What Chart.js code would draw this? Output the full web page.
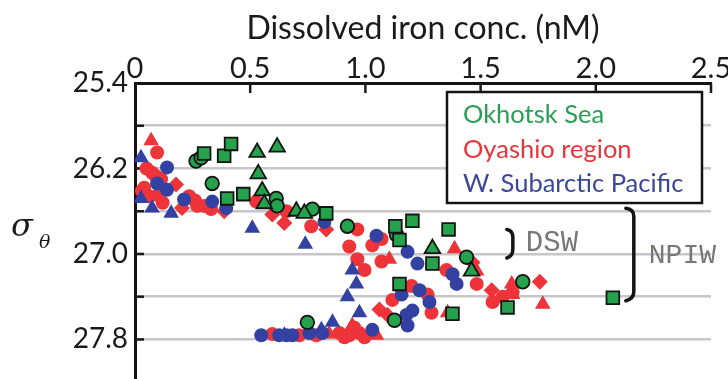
<!DOCTYPE html>
<html>
<head>
<meta charset="utf-8">
<script src="https://cdn.jsdelivr.net/npm/chart.js@4.4.1/dist/chart.umd.min.js"></script>
<style>
  html, body { margin: 0; padding: 0; background: #fff; overflow: hidden; width: 728px; height: 379px; }
  canvas { display: block; }
</style>
</head>
<body>
<canvas id="chart" width="729" height="406"></canvas>
<script>
// Axis ticks
const xTickLabels = ['0', '0.5', '1.0', '1.5', '2.0', '2.5'];
const yTickLabels = ['25.4', '26.2', '27.0', '27.8'];
const regionNames = ['Okhotsk Sea', 'Oyashio region', 'W. Subarctic Pacific'];
const waterMasses = ['DSW', 'NPIW'];
const dswRange = [26.8, 27.0];
const npiwRange = [26.6, 27.4];

// Samples: [dissolved Fe (nM), sigma-theta]
const okhotskCircles = [[0.265,26.13],[0.287,26.10],[0.335,26.34],[0.613,26.48],[0.617,26.55],[0.77,26.58],
  [0.922,26.74],[1.135,26.82],[1.439,27.03],[1.683,27.26],[0.748,27.64],[1.126,27.62]];
const okhotskSquares = [[0.30,26.06],[0.387,26.08],[0.417,25.97],[0.40,26.48],[0.47,26.44],[0.83,26.62],
  [1.13,26.74],[1.204,26.69],[1.148,26.87],[1.361,26.77],[1.291,27.09],[1.148,27.28],[1.378,27.56],
  [1.617,27.50],[2.074,27.41]];
const okhotskTriangles = [[0.53,26.05],[0.617,26.00],[0.535,26.25],[0.552,26.41],[0.561,26.53],[0.70,26.60],
  [0.735,26.62],[1.291,26.95],[1.461,27.16]];

const oyashioCircles = [[0.096,26.05],[0.074,26.24],[0.03,26.41],[0.061,26.46],[0.113,26.30],[0.05,26.20],
  [0.09,26.27],[0.04,26.38],[0.10,26.45],[0.12,26.52],[0.235,26.46],[0.26,26.50],[0.27,26.55],[0.30,26.55],
  [0.33,26.58],[0.526,26.51],[0.657,26.60],[0.765,26.74],[0.965,26.77],[0.93,26.93],[1.03,26.92],[1.07,26.86],
  [0.965,27.05],[0.996,27.15],[1.07,27.07],[1.352,27.15],[1.483,27.28],[1.552,27.45],[1.596,27.40],
  [1.639,27.36],[1.27,27.38],[1.287,27.55],[1.117,27.43],[1.20,27.30],[0.596,27.75],[0.713,27.76],
  [0.787,27.76],[0.887,27.74],[0.93,27.76],[0.974,27.74],[0.996,27.78],[0.952,27.69],[0.909,27.78]];
const oyashioTriangles = [[0.07,25.94],[0.278,26.55],[1.387,26.95],[1.104,27.05],[1.483,27.16],[1.635,27.28],
  [1.639,27.38],[1.77,27.47],[1.357,27.55],[1.048,27.76],[0.943,27.67],[0.843,27.75]];
const oyashioDiamonds = [[0.178,26.35],[0.204,26.57],[0.387,26.60],[0.596,26.63],[0.648,26.71],[0.83,26.77],
  [1.465,27.08],[1.548,27.34],[1.757,27.26],[1.061,27.52],[1.096,27.57]];

const subarcticCircles = [[0.139,26.19],[0.096,26.34],[0.139,26.40],[0.213,26.49],[0.335,26.51],[0.396,26.57],
  [0.822,26.70],[1.048,26.83],[1.183,26.98],[1.226,27.09],[1.378,27.19],[1.396,27.28],[1.235,27.34],
  [1.157,27.38],[1.278,27.45],[1.204,27.53],[1.178,27.57],[1.183,27.67],[1.03,27.71],[0.548,27.76],
  [0.626,27.76],[0.657,27.76],[0.683,27.76],[0.757,27.74],[0.813,27.74]];
const subarcticTriangles = [[0.026,26.10],[0.026,26.48],[0.074,26.57],[0.157,26.62],[0.509,26.76],[0.739,26.91],
  [0.943,27.15],[0.961,27.28],[0.922,27.40],[0.974,27.55],[0.857,27.64],[0.809,27.71],[0.648,27.76]];

const GREEN = '#25a24c', RED = '#ee3339', BLUE = '#3342a2';
const TEXT_COLORS = ['#2b9e55', '#e8343c', '#3b479a'];

function series(points, shape, color, radius, outlined) {
  return {
    data: points.map(([x, y]) => ({ x, y })),
    pointStyle: shape,
    pointRadius: radius,
    pointHoverRadius: radius,
    backgroundColor: color,
    pointBackgroundColor: color,
    borderColor: outlined ? '#141414' : color,
    pointBorderColor: outlined ? '#141414' : color,
    pointBorderWidth: outlined ? 1.8 : 0,
    borderWidth: outlined ? 1.8 : 0,
    showLine: false
  };
}

// first dataset is painted last (on top)
const datasets = [
  series(okhotskSquares, 'rect', GREEN, 9, true),
  series(okhotskTriangles, 'triangle', GREEN, 9, true),
  series(okhotskCircles, 'circle', GREEN, 6.8, true),
  series(subarcticCircles, 'circle', BLUE, 7, false),
  series(subarcticTriangles, 'triangle', BLUE, 9, false),
  series(oyashioCircles, 'circle', RED, 7, false),
  series(oyashioTriangles, 'triangle', RED, 9, false),
  series(oyashioDiamonds, 'rectRot', RED, 8, false)
];

function bracket(ctx, x, top, bottom, hook) {
  ctx.beginPath();
  ctx.moveTo(x - hook, top - 3);
  ctx.quadraticCurveTo(x, top - 2, x, top + 5);
  ctx.lineTo(x, bottom - 5);
  ctx.quadraticCurveTo(x, bottom + 2, x - hook, bottom + 4);
  ctx.stroke();
}

const decorations = {
  id: 'decorations',
  beforeDatasetsDraw(chart) {
    const { ctx, chartArea, scales: { x, y } } = chart;
    ctx.save();
    ctx.strokeStyle = '#1a1a1a';
    ctx.lineWidth = 2.5;
    y.ticks.forEach(t => {
      if (t.value <= 25.41) return;
      const py = y.getPixelForValue(t.value);
      ctx.beginPath(); ctx.moveTo(chartArea.left, py); ctx.lineTo(chartArea.left + 9, py); ctx.stroke();
    });
    x.ticks.forEach(t => {
      if (t.value <= 0.01) return;
      const px = x.getPixelForValue(t.value);
      ctx.beginPath(); ctx.moveTo(px, chartArea.top); ctx.lineTo(px, chartArea.top + 10); ctx.stroke();
    });
    ctx.restore();
  },
  afterDraw(chart) {
    const { ctx, scales: { x, y } } = chart;
    ctx.save();
    // sigma-theta axis label
    ctx.fillStyle = '#1a1a1a';
    ctx.textBaseline = 'alphabetic';
    ctx.textAlign = 'left';
    ctx.font = 'italic 32px "DejaVu Serif"';
    ctx.fillText('σ', 11, 236);
    ctx.font = 'italic 19px "DejaVu Serif"';
    ctx.fillText('θ', 39, 248);

    // legend box
    const bx = 447, by = 92, bw = 255, bh = 111;
    ctx.fillStyle = '#fff';
    ctx.fillRect(bx, by, bw, bh);
    ctx.strokeStyle = '#141414';
    ctx.lineWidth = 2.5;
    ctx.strokeRect(bx, by, bw, bh);
    ctx.font = '25.5px Lato';
    regionNames.forEach((name, i) => {
      ctx.fillStyle = TEXT_COLORS[i];
      ctx.fillText(name, 463, 123 + i * 34.5);
    });

    // water mass brackets
    ctx.strokeStyle = '#141414';
    ctx.lineWidth = 3.5;
    ctx.lineCap = 'round';
    ctx.lineJoin = 'round';
    const dx = x.getPixelForValue(1.64);
    bracket(ctx, dx, y.getPixelForValue(dswRange[0]), y.getPixelForValue(dswRange[1]), 6);
    const nx = x.getPixelForValue(2.165);
    bracket(ctx, nx, y.getPixelForValue(npiwRange[0]), y.getPixelForValue(npiwRange[1]), 8);

    ctx.fillStyle = '#777';
    ctx.font = '29px "Liberation Mono"';
    ctx.fillText(waterMasses[0], dx + 13, 251);
    ctx.font = '28px "Liberation Mono"';
    ctx.fillText(waterMasses[1], nx + 15, 263);
    ctx.restore();
  }
};

new Chart(document.getElementById('chart'), {
  type: 'scatter',
  data: { datasets },
  options: {
    responsive: false,
    devicePixelRatio: 1,
    animation: false,
    events: [],
    layout: { padding: { left: 0, right: 18, top: 0, bottom: 0 } },
    plugins: { legend: { display: false }, tooltip: { enabled: false } },
    scales: {
      x: {
        type: 'linear',
        position: 'top',
        min: 0,
        max: 2.5,
        ticks: {
          stepSize: 0.5,
          padding: -3,
          color: '#1a1a1a',
          font: { family: 'Lato', size: 29 },
          maxRotation: 0,
          callback: (v, i) => xTickLabels[i]
        },
        grid: { display: false, drawTicks: false },
        border: { display: true, color: '#141414', width: 3 },
        title: {
          display: true,
          text: 'Dissolved iron conc. (nM)',
          color: '#1a1a1a',
          font: { family: 'Lato', size: 32 },
          padding: { top: 9, bottom: 0 }
        },
        afterFit: s => { s.height = 83; }
      },
      y: {
        type: 'linear',
        reverse: true,
        min: 25.4,
        max: 28.2,
        ticks: {
          stepSize: 0.4,
          padding: 7,
          color: '#1a1a1a',
          font: { family: 'Lato', size: 28 },
          callback: v => {
            const s = v.toFixed(1);
            return yTickLabels.includes(s) ? s : '';
          }
        },
        grid: { color: '#c6c6cc', lineWidth: 2.5, drawTicks: false },
        border: { display: true, color: '#141414', width: 3 },
        afterFit: s => { s.width = 135; }
      }
    }
  },
  plugins: [decorations]
});
</script>
</body>
</html>
